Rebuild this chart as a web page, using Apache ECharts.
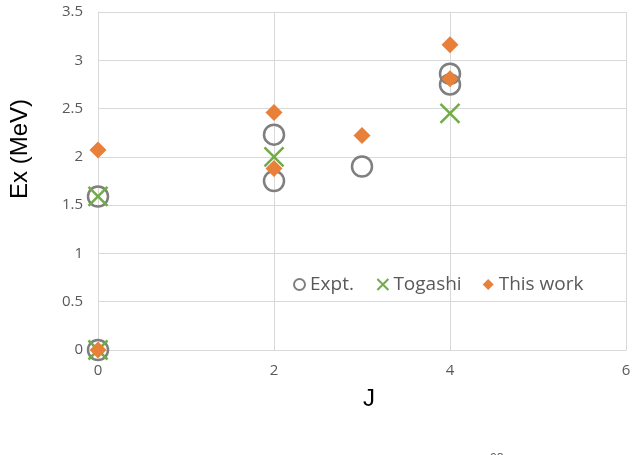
<!DOCTYPE html>
<html>

<head>
    <meta charset="utf-8">
    <script src="https://cdn.jsdelivr.net/npm/echarts@6/dist/echarts.min.js"></script>
    <style>
        html, body { margin: 0; padding: 0; background: #fff; }
    </style>
</head>

<body>
    <div id="main" style="width:636px;height:455px;"></div>

    <script>
        // data
        var seriesNames = ['Expt.', 'Togashi', 'This work'];
        var exptJ = [0, 0, 2, 2, 3, 4, 4];
        var exptE = [0, 1.59, 2.23, 1.75, 1.90, 2.86, 2.75];
        var togashiJ = [0, 0, 2, 4];
        var togashiE = [0, 1.59, 2.00, 2.45];
        var thisJ = [0, 0, 2, 2, 3, 4, 4];
        var thisE = [0, 2.07, 2.46, 1.88, 2.22, 3.16, 2.81];
        var xTicks = [0, 2, 4, 6];
        var yTicks = [0, 0.5, 1, 1.5, 2, 2.5, 3, 3.5];

        function pairs(xs, ys) {
            return xs.map(function (x, i) { return [x, ys[i]]; });
        }

        var gridColor = '#d9d9d9';
        var labelColor = '#595959';

        var myChart = echarts.init(document.getElementById('main'));
        var option = {
            animation: false,
            grid: {
                left: 98,
                right: 10,
                top: 12,
                bottom: 105
            },
            legend: {
                data: seriesNames,
                left: 293,
                top: 275,
                padding: 0,
                itemWidth: 11,
                itemHeight: 11,
                itemGap: 21,
                textStyle: {
                    fontFamily: 'Open Sans',
                    fontSize: 19,
                    color: labelColor
                }
            },
            xAxis: {
                type: 'value',
                min: xTicks[0],
                max: xTicks[xTicks.length - 1],
                interval: 2,
                name: 'J',
                nameLocation: 'middle',
                nameGap: 37,
                nameTextStyle: {
                    fontFamily: 'Liberation Sans',
                    fontSize: 24,
                    color: '#000',
                    padding: [0, 0, 0, 14]
                },
                axisLine: { lineStyle: { color: gridColor } },
                axisTick: { show: false },
                axisLabel: {
                    margin: 13,
                    fontFamily: 'Open Sans',
                    fontSize: 15,
                    color: labelColor
                },
                splitLine: { lineStyle: { color: gridColor } }
            },
            yAxis: {
                type: 'value',
                min: yTicks[0],
                max: yTicks[yTicks.length - 1],
                interval: 0.5,
                name: 'Ex (MeV)',
                nameLocation: 'middle',
                nameGap: 66,
                nameTextStyle: {
                    fontFamily: 'Liberation Sans',
                    fontSize: 24,
                    color: '#000',
                    padding: [0, 0, 0, 64]
                },
                axisLine: { show: true, lineStyle: { color: gridColor } },
                axisTick: { show: false },
                axisLabel: {
                    margin: 15,
                    fontFamily: 'Open Sans',
                    fontSize: 15,
                    color: labelColor
                },
                splitLine: { lineStyle: { color: gridColor } }
            },
            graphic: [
                {
                    type: 'text',
                    left: 490,
                    top: 453,
                    style: {
                        text: '98',
                        fontFamily: 'Open Sans',
                        fontSize: 12,
                        fill: labelColor
                    }
                }
            ],
            series: [
                {
                    name: seriesNames[0],
                    type: 'scatter',
                    symbol: 'circle',
                    symbolSize: 20,
                    itemStyle: {
                        color: 'rgba(255,255,255,0)',
                        borderColor: '#7f7f7f',
                        borderWidth: 2.5,
                        opacity: 1
                    },
                    data: pairs(exptJ, exptE)
                },
                {
                    name: seriesNames[1],
                    type: 'scatter',
                    symbol: 'path://M0,0L10,10M10,0L0,10',
                    symbolSize: 19,
                    itemStyle: {
                        color: 'none',
                        borderColor: '#70ad47',
                        borderWidth: 2.5,
                        opacity: 1
                    },
                    data: pairs(togashiJ, togashiE)
                },
                {
                    name: seriesNames[2],
                    type: 'scatter',
                    symbol: 'diamond',
                    symbolSize: [17, 17],
                    itemStyle: {
                        color: '#e8803a',
                        opacity: 1
                    },
                    data: pairs(thisJ, thisE)
                }
            ]
        };

        myChart.setOption(option);
    </script>
</body>

</html>
